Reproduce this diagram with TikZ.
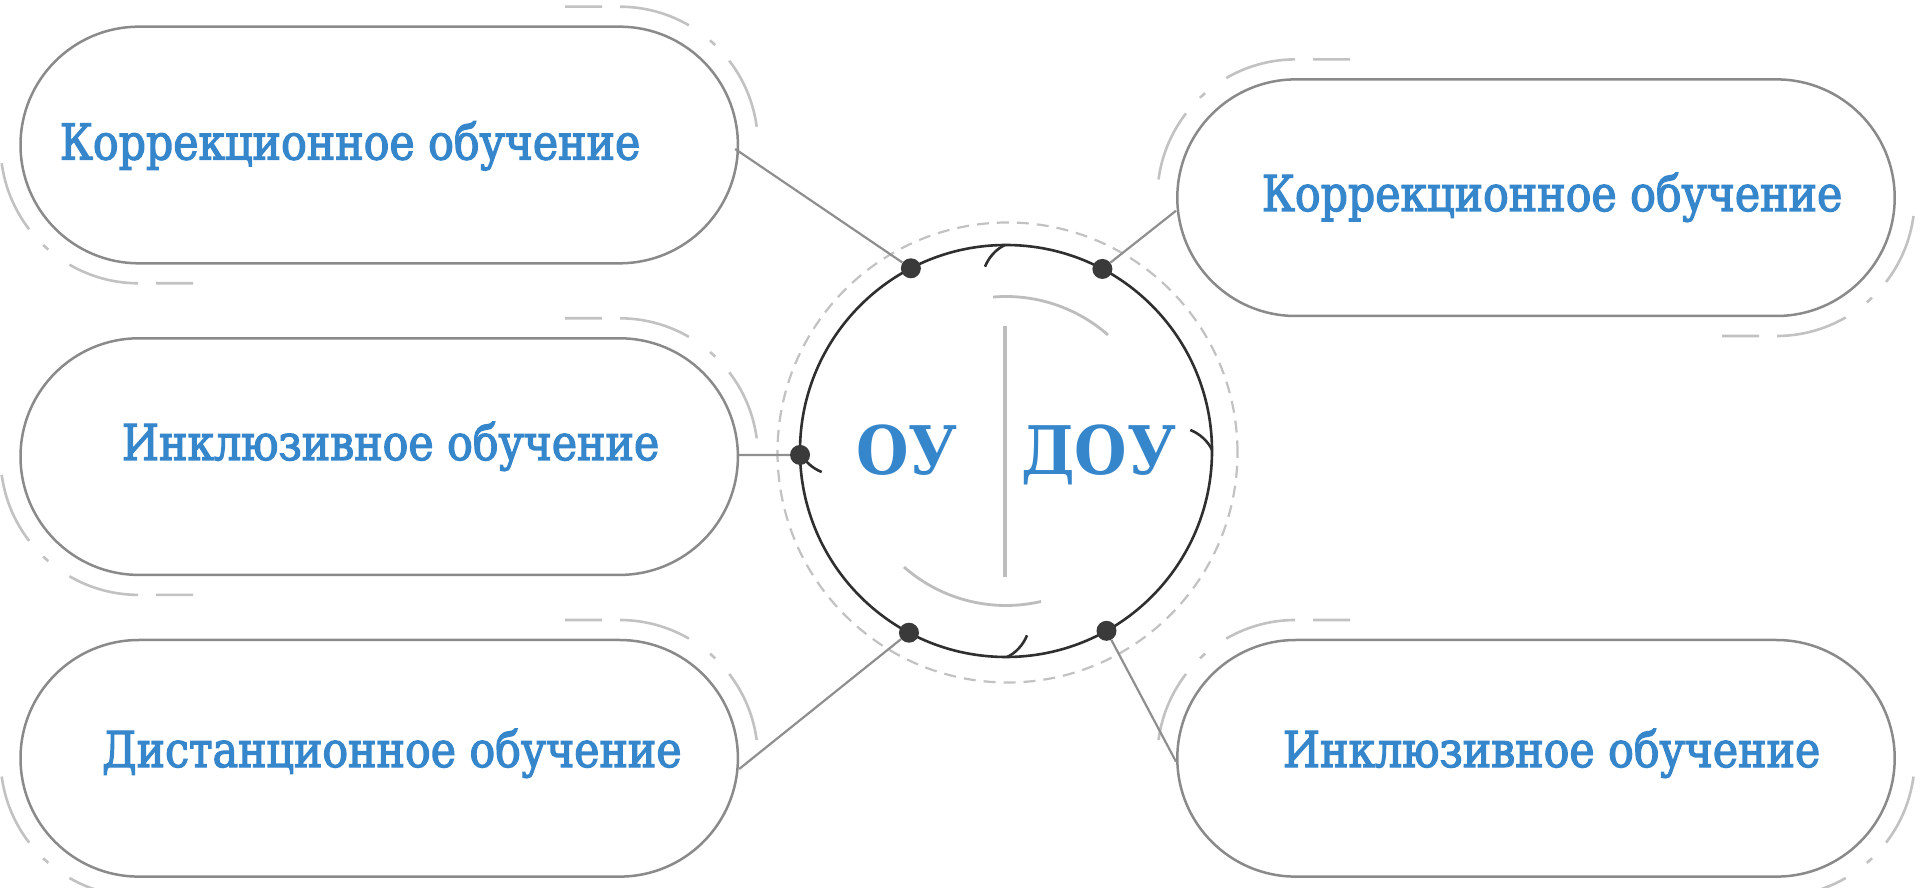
\documentclass[tikz,border=0pt]{standalone}
\usepackage{fontspec}
\newfontfamily\boxfont{DejaVu Serif Condensed}[FakeStretch=0.96, FakeBold=2.5]
\newfontfamily\bigfont{DejaVu Serif Condensed}
\usetikzlibrary{shapes.misc,calc}
\definecolor{txtblue}{HTML}{3686CC}
\definecolor{boxgray}{HTML}{8A8A8A}
\definecolor{linegray}{HTML}{8F8F8F}
\definecolor{decogray}{HTML}{C2C2C2}
\definecolor{ringdark}{HTML}{2F2F2F}
\definecolor{dotdark}{HTML}{3A3A3A}
\definecolor{innergray}{HTML}{BDBDBD}
\begin{document}
\begin{tikzpicture}[x=1pt,y=1pt,
  box/.style={rounded rectangle, draw=boxgray, line width=2.5pt, fill=white,
    minimum width=717.4pt, minimum height=236.6pt, inner sep=0pt},
  boxtext/.style={anchor=base, text=txtblue, inner sep=0pt,
    font=\boxfont\fontsize{49.4}{56}\selectfont},
  bigtext/.style={anchor=base, text=txtblue, inner sep=0pt,
    font=\bigfont\bfseries\fontsize{67}{72}\selectfont},
  conn/.style={draw=linegray, line width=2.2pt},
  deco/.style={draw=decogray, line width=2.6pt,
    dash pattern=on 37pt off 18pt on 72pt off 26pt on 7pt off 21pt on 90pt off 10pt},
  ring/.style={circle, draw=ringdark, line width=2.6pt, fill=white,
    minimum size=412pt, inner sep=0pt},
  outerring/.style={circle, draw=decogray, line width=2.2pt,
    dash pattern=on 12pt off 8pt, minimum size=460pt, inner sep=0pt},
  dot/.style={circle, fill=dotdark, minimum size=20pt, inner sep=0pt},
  hookline/.style={draw=ringdark, line width=2.6pt},
  innerarc/.style={draw=innergray, line width=2.8pt}]
\useasboundingbox (0,0) rectangle (1920,887);

% outer dashed ring and central circle
\node[outerring] (oring) at (1007.5,434.5) {};
\node[ring] (c) at (1006,436) {};

% boxes
\node[box] (L1) at (379.2,742) {};
\node[box] (L2) at (379.2,430.4) {};
\node[box] (L3) at (379.2,128.7) {};
\node[box] (R1) at (1536,689.3) {};
\node[box] (R2) at (1536,128.7) {};

% dashed decorations around boxes
\foreach \b in {L1,L2,L3}{
  \draw[deco] ($(\b.center)+(186,138.3)$) -- ++(54.4,0)
     arc[start angle=90, end angle=7.6, radius=138.3];
  \draw[deco] ($(\b.center)+(-186,-138.3)$) -- ++(-54.4,0)
     arc[start angle=270, end angle=187.6, radius=138.3];
}
\foreach \b in {R1,R2}{
  \draw[deco] ($(\b.center)+(-186,138.3)$) -- ++(-54.4,0)
     arc[start angle=90, end angle=172.4, radius=138.3];
  \draw[deco] ($(\b.center)+(186,-138.3)$) -- ++(54.4,0)
     arc[start angle=270, end angle=352.4, radius=138.3];
}

% inner light arcs and divider
\draw[innerarc] ($(c.center)+(94.8:154.5)$) arc[start angle=94.8, end angle=48.7, radius=154.5];
\draw[innerarc] ($(c.center)+(228.7:154.5)$) arc[start angle=228.7, end angle=283.1, radius=154.5];
\draw[innerarc, line width=3.2pt] ($(c.center)+(-1,125)$) -- ($(c.center)+(-1,-126)$);

% hooks on the ring
\foreach \r in {0,90,180,270}{
  \begin{scope}[shift={(c.center)}, rotate=\r]
    \draw[hookline] (-1,206) .. controls (-10,202) and (-17.5,193.3) .. (-21,184.3);
  \end{scope}
}

% dots
\foreach \n/\a in {d1/117.5, d2/62.1, d3/181.1, d4/241.9, d5/299.2}
  \node[dot] (\n) at ($(c.center)+(\a:206)$) {};

% connectors
\draw[conn] ([shift={(-4,-4)}]L1.east) -- (d1);
\draw[conn] ([yshift=1.5]L2.east) -- (d3);
\draw[conn] ([yshift=-10.7]L3.east) -- (d4);
\draw[conn] ([yshift=-13]R1.west) -- (d2);
\draw[conn] ([yshift=-3.4]R2.west) -- (d5);

% texts
\node[boxtext] (t1) at ($(L1.center)+(-29.2,-14.5)$) {Коррекционное обучение};
\node[boxtext] (t2) at ($(L2.center)+(11.3,-3.4)$) {Инклюзивное обучение};
\node[boxtext] (t3) at ($(L3.center)+(12.5,-8.7)$) {Дистанционное обучение};
\node[boxtext] (t4) at ($(R1.center)+(16,-13.3)$) {Коррекционное обучение};
\node[boxtext] (t5) at ($(R2.center)+(15.5,-8.7)$) {Инклюзивное обучение};
\node[bigtext] (ou) at ($(c.center)+(-99,-24)$) {ОУ};
\node[bigtext] (dou) at ($(c.center)+(92.5,-24)$) {ДОУ};
\end{tikzpicture}
\end{document}
